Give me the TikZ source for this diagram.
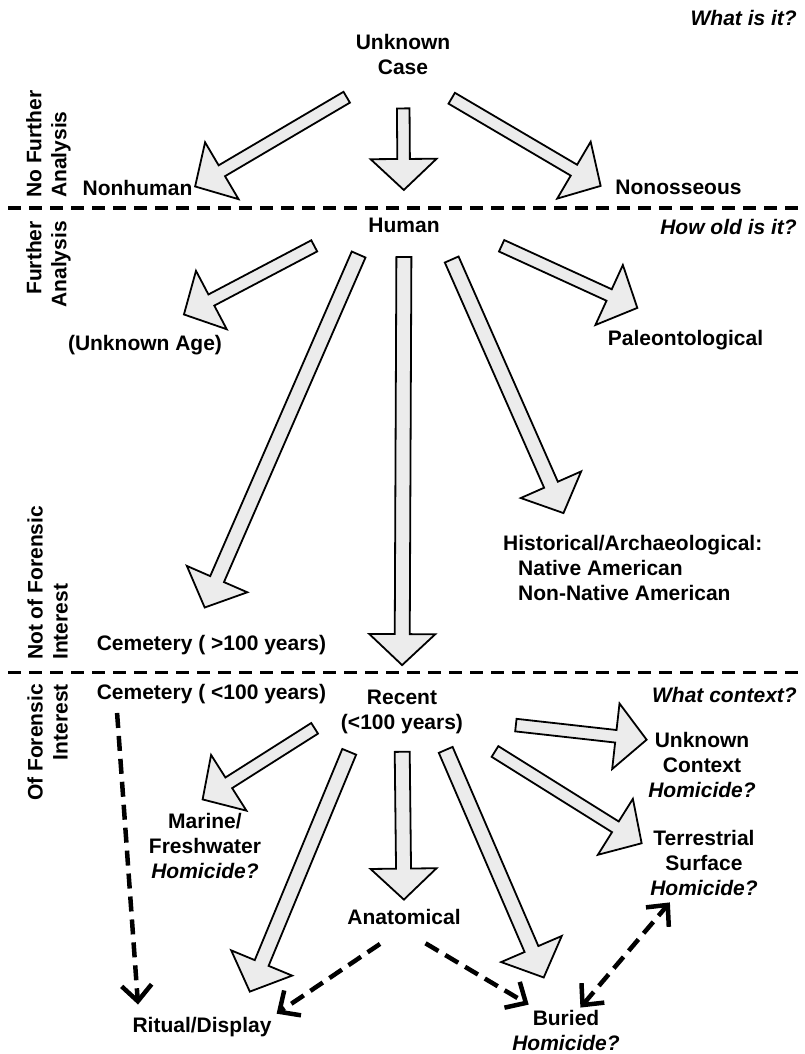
\documentclass[tikz,border=0pt]{standalone}
\usepackage{fontspec}
\setmainfont{Liberation Sans}
\usetikzlibrary{calc, arrows.meta}

\def\fsw{6.3pt}
\def\fhw{33pt}
\def\fhl{31pt}

\tikzset{
  chev/.tip={Straight Barb[length=16pt, width=30pt]},
  shaft/.code={\def\fsw{#1}},
  fat/.style 2 args={to path={
    ($(\tikztostart)!#1!(\tikztotarget)$) coordinate (fS)
    ($(\tikztotarget)!#2!(\tikztostart)$) coordinate (fT)
    ($(fT)!\fhl!(fS)$) coordinate (fB)
    ($(fS)!\fsw!90:(fT)$) -- ($(fB)!\fsw!90:(fT)$) -- ($(fB)!\fhw!90:(fT)$)
    -- (fT) -- ($(fB)!\fhw!-90:(fT)$) -- ($(fB)!\fsw!-90:(fT)$)
    -- ($(fS)!\fsw!-90:(fT)$) -- cycle}},
}

\begin{document}
\begin{tikzpicture}[x=1pt, y=-1pt,
  lbl/.style={font=\fontsize{21}{25}\selectfont\bfseries, inner sep=0pt, align=center},
  quest/.style={lbl, font=\fontsize{21}{25}\selectfont\bfseries\itshape, anchor=east},
  side/.style={lbl, rotate=90},
  block/.style={draw, fill=gray!15, line width=1.8pt},
  sep/.style={line width=3.5pt, dash pattern=on 13pt off 8pt},
  dasharr/.style={line width=4.5pt, dash pattern=on 15pt off 8pt},
]
  \useasboundingbox (0,0) rectangle (805,1054);

  \node[lbl] (unk) at (403,54.5) {Unknown\\Case};
  \node[quest] (q1) at (797,18) {What is it?};
  \node[lbl] (nonhum) at (137.5,188) {Nonhuman};
  \node[lbl] (nonoss) at (678.5,187) {Nonosseous};
  \node[lbl] (human) at (404,225) {Human};
  \node[quest] (q2) at (797,227) {How old is it?};
  \node[lbl] (unkage) at (145,345) {(Unknown Age)};
  \node[lbl] (paleo) at (685.5,340) {Paleontological};
  \node[lbl, align=left, anchor=north west] (hist) at (503,535.5)
    {Historical/Archaeological:\\\hspace*{15pt}Native American\\\hspace*{15pt}Non-Native American};
  \node[lbl] (cem1) at (211.5,645) {Cemetery ( >100 years)};
  \node[lbl] (cem2) at (211.5,694) {Cemetery ( <100 years)};
  \node[lbl] (recent) at (402,711.7) {Recent\\(<100 years)};
  \node[quest] (q3) at (797,695) {What context?};
  \node[lbl] (unkctx) at (702,765) {Unknown\\Context\\\textit{Homicide?}};
  \node[lbl] (marine) at (205,846) {Marine/\\Freshwater\\\textit{Homicide?}};
  \node[lbl] (terr) at (704,863) {Terrestrial\\Surface\\\textit{Homicide?}};
  \node[lbl] (anat) at (404,917) {Anatomical};
  \node[lbl] (ritual) at (202,1027) {Ritual/Display};
  \node[lbl] (buried) at (566,1030.5) {Buried\\\textit{Homicide?}};

  \node[side, align=left, anchor=west] (nofa) at (48.5,198) {No Further\\Analysis};
  \node[side, align=right, anchor=east] (fa) at (48.5,221) {Further\\Analysis};
  \node[side, align=left, anchor=west] (nfi) at (47.5,660) {Not of Forensic\\Interest};
  \node[side, align=right, anchor=east] (ofi) at (47.5,684) {Of Forensic\\Interest};

  \draw[sep] (8,208) -- (805,208);
  \draw[sep] (8,672.5) -- (805,672.5);

  \draw[block, fat={44pt}{3pt}] (unk.-132) to (nonhum.east);
  \draw[block, fat={33.5pt}{27.5pt}] (unk.south) to (human.north);
  \draw[block, fat={46pt}{17pt}] (unk.-66) to (nonoss.south west);
  \draw[block, fat={61pt}{44pt}] (human.north west) to (unkage.north);
  \draw[block, shaft=7.5pt, fat={24pt}{30pt}] (human.south west) to (cem1.152);
  \draw[block, shaft=7.5pt, fat={24.5pt}{24.5pt}] (human.south) to (recent.north);
  \draw[block, fat={68pt}{53pt}] (human.north east) to (paleo.north);
  \draw[block, shaft=7.5pt, fat={29.5pt}{24.5pt}] (human.south east) to (hist.151);
  \draw[block, fat={53pt}{1.5pt}] (recent.-7) to (unkctx.155);
  \draw[block, fat={31pt}{25.5pt}] (recent.west) to (marine.126);
  \draw[block, shaft=7.5pt, fat={19.5pt}{27.5pt}] (recent.-154) to (ritual.15);
  \draw[block, shaft=7.5pt, fat={18pt}{9.5pt}] (recent.south) to (anat.north);
  \draw[block, shaft=7.5pt, fat={17.5pt}{35.5pt}] (recent.-31) to (buried.112);
  \draw[block, fat={37.5pt}{10pt}] (recent.-18) to (terr.165);

  \draw[dasharr, -chev, shorten <=9pt, shorten >=12.5pt] (cem2.-174) -- (ritual.171);
  \draw[dasharr, -chev, shorten <=34pt, shorten >=6pt] (anat.-62) -- (ritual.north east);
  \draw[dasharr, -chev, shorten <=36pt, shorten >=10.7pt] (anat.-140) -- (buried.144);
  \draw[dasharr, chev-chev, shorten <=3.3pt, shorten >=8.5pt] (buried.59) -- (terr.-131);
\end{tikzpicture}
\end{document}
